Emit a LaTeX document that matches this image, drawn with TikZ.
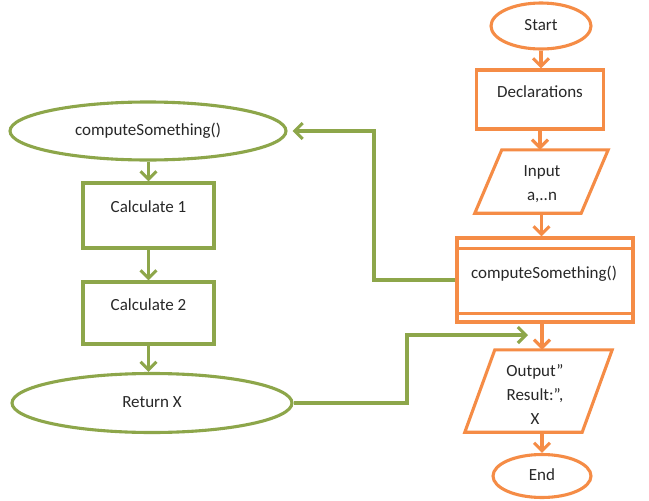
\documentclass[tikz,border=0pt]{standalone}
\usepackage{fontspec}
\setmainfont{Carlito}
\usetikzlibrary{shapes.geometric,arrows.meta}
\definecolor{orng}{RGB}{245,140,70}
\definecolor{grn}{RGB}{141,166,74}
\definecolor{txt}{RGB}{40,40,40}
\begin{document}
\begin{tikzpicture}[x=1pt,y=-1pt,
  ob/.style={draw=orng,line width=3.1pt,inner sep=0pt},
  gb/.style={draw=grn,line width=3.1pt,inner sep=0pt},
  lbl/.style={text=txt,font=\fontsize{17}{24}\selectfont,align=center,inner sep=0pt,text height=11.5pt,text depth=3.5pt},
  mlbl/.style={text=txt,font=\fontsize{17}{24}\selectfont,align=center,inner sep=0pt},
  oarr/.style={draw=orng,line width=3.1pt,-{Straight Barb[length=8pt,width=16pt]}},
  garr/.style={draw=grn,line width=3.1pt,-{Straight Barb[length=8pt,width=16pt]}}]
\fill[white] (0,0) rectangle (649,501);
\path[use as bounding box] (0,0) rectangle (649,501);
% right column
\node[ob,ellipse,lbl,minimum width=100pt,minimum height=46pt] (start) at (541,26) {Start};
\node[ob,minimum width=127pt,minimum height=59pt] (decl) at (540,99.5) {};
\node[lbl] (declt) at (540,93) {Declarations};
\node[minimum width=133pt,minimum height=63pt,inner sep=0pt] (inp) at (541.5,181.5) {};
\draw[ob] ([xshift=27pt]inp.north west) -- (inp.north east) -- ([xshift=-27pt]inp.south east) -- (inp.south west) -- cycle;
\node[mlbl] (inpt) at (542,184) {Input\\a,..n};
\node[ob,minimum width=176pt,minimum height=84pt] (sub) at (545,280) {};
\draw[ob] ([yshift=-12pt]sub.north west) -- ([yshift=-12pt]sub.north east);
\draw[ob] ([yshift=10pt]sub.south west) -- ([yshift=10pt]sub.south east);
\node[lbl] (subt) at (544,274) {computeSomething()};
\node[minimum width=147pt,minimum height=82pt,inner sep=0pt] (outp) at (538.5,391) {};
\draw[ob] ([xshift=30pt]outp.north west) -- (outp.north east) -- ([xshift=-30pt]outp.south east) -- (outp.south west) -- cycle;
\node[mlbl] (outpt) at (535,395) {Output”\\Result:”,\\X};
\node[ob,ellipse,lbl,minimum width=98pt,minimum height=43pt] (end) at (542,476) {End};
\draw[oarr] (start.south) -- (start.south |- decl.north);
\draw[oarr] (decl.south) -- (decl.south |- inp.north);
\draw[oarr] (inp.south) -- (inp.south |- sub.north);
\draw[oarr] (end |- sub.south) -- (end |- outp.north);
\draw[oarr] (end |- outp.south) -- (end.north);
% left column
\node[gb,ellipse,lbl,minimum width=276pt,minimum height=58pt] (cs) at (148,131) {computeSomething()};
\node[gb,minimum width=131pt,minimum height=65pt] (c1) at (148.5,215.5) {};
\node[lbl] (c1t) at (148.5,208) {Calculate 1};
\node[gb,minimum width=131pt,minimum height=62pt] (c2) at (148.5,313) {};
\node[lbl] (c2t) at (148.5,306) {Calculate 2};
\node[gb,ellipse,lbl,minimum width=280pt,minimum height=59pt] (ret) at (152,403) {Return X};
\draw[garr] (c1.north |- cs.south) -- (c1.north);
\draw[garr] (c1.south) -- (c2.north);
\draw[garr] (c2.south) -- (c2.south |- ret.north);
% cross connectors
\coordinate (k1) at (374,0);
\draw[garr,shorten >=5pt] (sub.west) -- (k1 |- sub.west) -- (k1 |- cs.east) -- (cs.east);
\coordinate (k2) at (407,0);
\coordinate (tip) at (528,335);
\draw[garr] (ret.east) -- (k2 |- ret.east) -- (k2 |- tip) -- (tip);
\end{tikzpicture}
\end{document}
